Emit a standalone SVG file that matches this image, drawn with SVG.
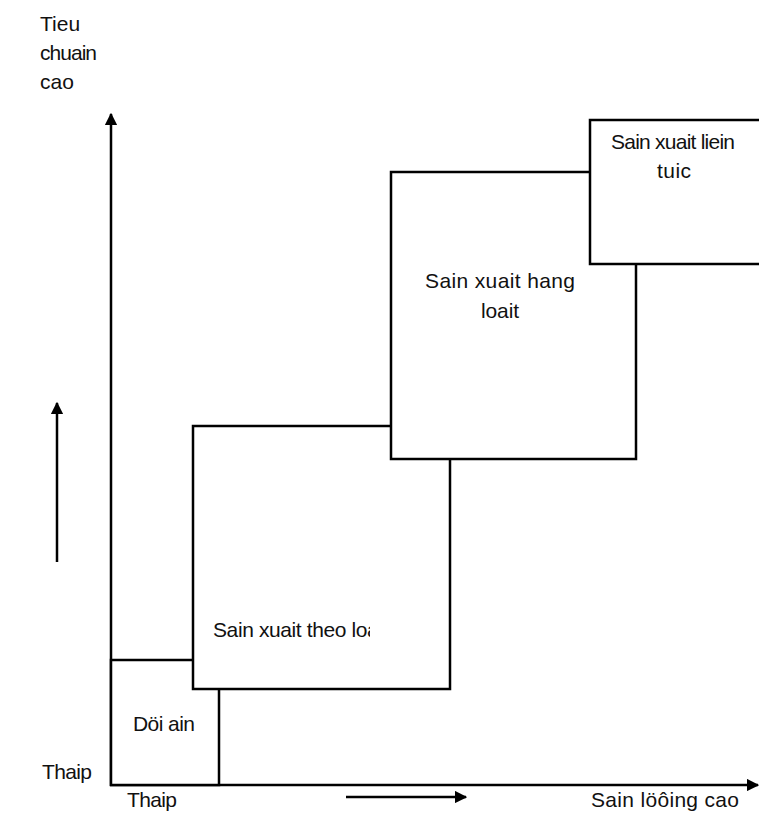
<svg xmlns="http://www.w3.org/2000/svg" width="759" height="835" viewBox="0 0 759 835">
<style>
  .box { fill: #fff; stroke: #000; stroke-width: 2.5; }
  .ax { stroke: #000; stroke-width: 2.5; fill: none; }
  .t { font-family: "Liberation Sans", Arial, sans-serif; font-size: 21px; fill: #111; }
</style>
<defs>
  <marker id="ah" viewBox="0 0 10 10" refX="9" refY="5" markerWidth="5" markerHeight="5" orient="auto" markerUnits="strokeWidth">
    <path d="M0,0 L10,5 L0,10 z" fill="#000"/>
  </marker>
  <clipPath id="clipTheo"><rect x="193" y="426" width="177" height="263"/></clipPath>
</defs>
<rect width="759" height="835" fill="#fff"/>
<g id="connectors">
  <line class="ax" x1="111" y1="786" x2="111" y2="114" marker-end="url(#ah)"/>
  <line class="ax" x1="110" y1="785" x2="758" y2="785" marker-end="url(#ah)"/>
  <line class="ax" x1="57" y1="562" x2="57" y2="403" marker-end="url(#ah)"/>
  <line class="ax" x1="346" y1="797" x2="466" y2="797" marker-end="url(#ah)"/>
</g>
<g id="node-doi-an">
  <rect class="box" x="111" y="660" width="108" height="125"/>
  <text class="t" x="133" y="731" textLength="62" lengthAdjust="spacing">Döi ain</text>
</g>
<g id="node-theo-loai">
  <rect class="box" x="193" y="426" width="257" height="263"/>
  <text class="t" x="213" y="637" textLength="170" lengthAdjust="spacing" clip-path="url(#clipTheo)">Sain xuait theo loai</text>
</g>
<g id="node-hang-loat">
  <rect class="box" x="391" y="172" width="245" height="287"/>
  <text class="t" x="425" y="288" textLength="150" lengthAdjust="spacing">Sain xuait hang</text>
  <text class="t" x="481" y="318" textLength="38" lengthAdjust="spacing">loait</text>
</g>
<g id="node-lien-tuc">
  <rect class="box" x="590" y="120" width="175" height="144"/>
  <text class="t" x="611" y="149" textLength="124" lengthAdjust="spacing">Sain xuait liein</text>
  <text class="t" x="657" y="178" textLength="34" lengthAdjust="spacing">tuic</text>
</g>
<g id="labels">
  <text class="t" x="40" y="31">Tieu</text>
  <text class="t" x="40" y="60" textLength="57" lengthAdjust="spacing">chuain</text>
  <text class="t" x="40" y="89">cao</text>
  <text class="t" x="42" y="779" textLength="50" lengthAdjust="spacing">Thaip</text>
  <text class="t" x="127" y="807" textLength="50" lengthAdjust="spacing">Thaip</text>
  <text class="t" x="591" y="807" textLength="148" lengthAdjust="spacing">Sain löôing cao</text>
</g>
</svg>
